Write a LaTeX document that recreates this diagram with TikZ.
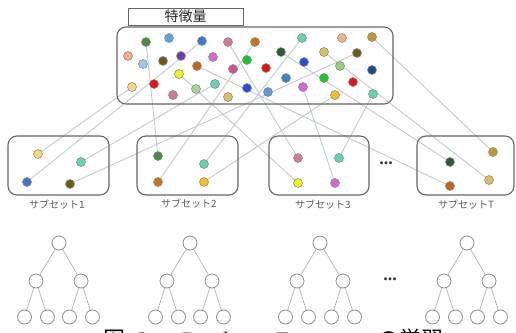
\documentclass[tikz,border=0pt]{standalone}
\usepackage{fontspec}
\usepackage{xcolor}
\usepackage{tikz}
\usetikzlibrary{positioning, backgrounds}
\setmainfont{Liberation Serif}
\newfontfamily\jpfont{Noto Sans CJK JP}

\definecolor{dgreen}{HTML}{4E8A3E}
\definecolor{lblue}{HTML}{5FA3DA}
\definecolor{fblue}{HTML}{3C78CC}
\definecolor{mauve}{HTML}{D07A96}
\definecolor{forange}{HTML}{C8741E}
\definecolor{fteal}{HTML}{62D4B4}
\definecolor{peach}{HTML}{F2B08E}
\definecolor{fgold}{HTML}{C8962A}
\definecolor{skyblue}{HTML}{9CC8F0}
\definecolor{folive}{HTML}{6E5C16}
\definecolor{fpurple}{HTML}{6A3CA8}
\definecolor{rust}{HTML}{C4621E}
\definecolor{fviolet}{HTML}{D466D6}
\definecolor{fmagenta}{HTML}{C85698}
\definecolor{fgreen}{HTML}{18C828}
\definecolor{forest}{HTML}{2E5A30}
\definecolor{fred}{HTML}{E21414}
\definecolor{royal}{HTML}{2A4CD4}
\definecolor{khaki}{HTML}{D8C064}
\definecolor{lgreen}{HTML}{96D27A}
\definecolor{navy}{HTML}{1C4C84}
\definecolor{pyellow}{HTML}{F2DA78}
\definecolor{fyellow}{HTML}{F2F214}
\definecolor{fpink}{HTML}{D27894}
\definecolor{sage}{HTML}{A6D49A}
\definecolor{steel}{HTML}{5C9AD8}
\definecolor{steeltwo}{HTML}{3C82C4}
\definecolor{amber}{HTML}{F4C020}
\definecolor{linkgray}{HTML}{C2C9D2}

\begin{document}
\begin{tikzpicture}[x=1pt,y=-1pt]
						\tikzstyle{fdot}=[circle,draw=black!45,line width=0.6pt,inner sep=0pt,minimum size=9pt]
						\tikzstyle{box}=[draw=black!60,line width=1.1pt,rounded corners=9pt,inner sep=0pt]
						\tikzstyle{link}=[draw=linkgray,line width=0.9pt]
						\tikzstyle{tnode}=[circle,draw=black!45,line width=0.8pt,fill=white,inner sep=0pt,minimum size=14pt]
						\tikzstyle{tedge}=[draw=black!30,line width=0.7pt]
						\tikzstyle{sublabel}=[font=\jpfont\fontsize{10}{12}\selectfont,text=black!65]
						\tikzstyle{ellip}=[font=\bfseries\fontsize{18}{20}\selectfont,text=black!80]
						\useasboundingbox (0,0) rectangle (516,332);

						\node[box](featbox) at (255,65.5) [minimum width=276pt,minimum height=77pt] {};
						\node[draw=black!60,line width=1pt,minimum width=115pt,minimum height=17pt,inner sep=0pt,font=\jpfont\fontsize{14}{16}\selectfont,text=black!85](title) at (185.5,16.5) {特徴量};

						\node[fdot,fill=dgreen](f1) at (146,42) {};
						\node[fdot,fill=lblue](f2) at (169,38) {};
						\node[fdot,fill=fblue](f3) at (202,41) {};
						\node[fdot,fill=mauve](f4) at (228,42) {};
						\node[fdot,fill=forange](f5) at (255,42) {};
						\node[fdot,fill=fteal](f6) at (302,38) {};
						\node[fdot,fill=peach](f7) at (342,38) {};
						\node[fdot,fill=fgold](f8) at (372,37) {};
						\node[fdot,fill=peach](f9) at (128,56) {};
						\node[fdot,fill=skyblue](f10) at (143,64) {};
						\node[fdot,fill=folive](f11) at (163,61) {};
						\node[fdot,fill=fpurple](f12) at (181,56) {};
						\node[fdot,fill=rust](f13) at (197,66) {};
						\node[fdot,fill=fviolet](f14) at (213,57) {};
						\node[fdot,fill=fmagenta](f15) at (233,69) {};
						\node[fdot,fill=fgreen](f16) at (247,60) {};
						\node[fdot,fill=fred](f17) at (266,68) {};
						\node[fdot,fill=forest](f18) at (281,52) {};
						\node[fdot,fill=royal](f19) at (304,62) {};
						\node[fdot,fill=khaki](f20) at (324,52) {};
						\node[fdot,fill=lgreen](f21) at (340,66) {};
						\node[fdot,fill=folive](f22) at (357,53) {};
						\node[fdot,fill=navy](f23) at (372,70) {};
						\node[fdot,fill=pyellow](f24) at (132,87) {};
						\node[fdot,fill=fred](f25) at (154,84) {};
						\node[fdot,fill=fyellow](f26) at (179,74) {};
						\node[fdot,fill=fpink](f27) at (173,95) {};
						\node[fdot,fill=sage](f28) at (196,89) {};
						\node[fdot,fill=fteal](f29) at (215,84) {};
						\node[fdot,fill=khaki](f30) at (228,97) {};
						\node[fdot,fill=royal](f31) at (247,88) {};
						\node[fdot,fill=steel](f32) at (268,92) {};
						\node[fdot,fill=steeltwo](f33) at (286,78) {};
						\node[fdot,fill=fviolet](f34) at (303,87) {};
						\node[fdot,fill=fgreen](f35) at (324,78) {};
						\node[fdot,fill=amber](f36) at (335,95) {};
						\node[fdot,fill=fred](f37) at (353,82) {};
						\node[fdot,fill=fteal](f38) at (373,94) {};

						\node[box](sub1) at (58.5,165.5) [minimum width=101pt,minimum height=59pt] {};
						\node[box](sub2) at (187.5,165.5) [minimum width=101pt,minimum height=59pt] {};
						\node[box](sub3) at (319,165.5) [minimum width=100pt,minimum height=59pt] {};
						\node[box](subT) at (465.5,165.5) [minimum width=97pt,minimum height=59pt] {};
						\node[sublabel](lab1) at (57,205) {サブセット1};
						\node[sublabel](lab2) at (189,204) {サブセット2};
						\node[sublabel](lab3) at (323,205) {サブセット3};
						\node[sublabel](labT) at (466,205) {サブセットT};
						\node[ellip](more1) at (386,163) {...};

						\node[fdot,fill=pyellow](a1) at (38,154) {};
						\node[fdot,fill=fteal](a2) at (81,162) {};
						\node[fdot,fill=fblue](a3) at (27,182) {};
						\node[fdot,fill=folive](a4) at (70,184) {};
						\node[fdot,fill=dgreen](b1) at (158,156) {};
						\node[fdot,fill=fteal](b2) at (204,164) {};
						\node[fdot,fill=forange](b3) at (158,182) {};
						\node[fdot,fill=amber](b4) at (204,182) {};
						\node[fdot,fill=mauve](c1) at (298,158) {};
						\node[fdot,fill=fteal](c2) at (339,158) {};
						\node[fdot,fill=fyellow](c3) at (298,183) {};
						\node[fdot,fill=fviolet](c4) at (335,183) {};
						\node[fdot,fill=forest](t1) at (450,162) {};
						\node[fdot,fill=fgold](t2) at (493,152) {};
						\node[fdot,fill=rust](t3) at (450,186) {};
						\node[fdot,fill=khaki](t4) at (489,180) {};

						\begin{scope}[on background layer]
						\draw[link](f24.center) -- (a1.center);
						\draw[link](f29.center) -- (a2.center);
						\draw[link](f3.center) -- (a3.center);
						\draw[link](f22.center) -- (a4.center);
						\draw[link](f1.center) -- (b1.center);
						\draw[link](f6.center) -- (b2.center);
						\draw[link](f5.center) -- (b3.center);
						\draw[link](f36.center) -- (b4.center);
						\draw[link](f4.center) -- (c1.center);
						\draw[link](f38.center) -- (c2.center);
						\draw[link](f26.center) -- (c3.center);
						\draw[link](f34.center) -- (c4.center);
						\draw[link](f18.center) -- (t1.center);
						\draw[link](f8.center) -- (t2.center);
						\draw[link](f13.center) -- (t3.center);
						\draw[link](f20.center) -- (t4.center);
						\end{scope}

						\node[tnode](r1) at (59,243) {};
						\node[tnode](m11) at (36,281) {};
						\node[tnode](m12) at (81,281) {};
						\node[tnode](l11) at (24.5,317) {};
						\node[tnode](l12) at (47.5,317) {};
						\node[tnode](l13) at (69.5,317) {};
						\node[tnode](l14) at (92.5,317) {};
						\node[tnode](r2) at (190,243) {};
						\node[tnode](m21) at (167,281) {};
						\node[tnode](m22) at (212,281) {};
						\node[tnode](l21) at (155.5,317) {};
						\node[tnode](l22) at (178.5,317) {};
						\node[tnode](l23) at (200.5,317) {};
						\node[tnode](l24) at (223.5,317) {};
						\node[tnode](r3) at (320,243) {};
						\node[tnode](m31) at (297,281) {};
						\node[tnode](m32) at (343,281) {};
						\node[tnode](l31) at (285.5,317) {};
						\node[tnode](l32) at (308.5,317) {};
						\node[tnode](l33) at (331.5,317) {};
						\node[tnode](l34) at (354.5,317) {};
						\node[tnode](r4) at (467,243) {};
						\node[tnode](m41) at (444,281) {};
						\node[tnode](m42) at (489,281) {};
						\node[tnode](l41) at (432.5,317) {};
						\node[tnode](l42) at (455.5,317) {};
						\node[tnode](l43) at (477.5,317) {};
						\node[tnode](l44) at (500.5,317) {};
						\node[ellip](more2) at (390,279) {...};

						\draw[tedge](r1) -- (m11);
						\draw[tedge](r1) -- (m12);
						\draw[tedge](m11) -- (l11);
						\draw[tedge](m11) -- (l12);
						\draw[tedge](m12) -- (l13);
						\draw[tedge](m12) -- (l14);
						\draw[tedge](r2) -- (m21);
						\draw[tedge](r2) -- (m22);
						\draw[tedge](m21) -- (l21);
						\draw[tedge](m21) -- (l22);
						\draw[tedge](m22) -- (l23);
						\draw[tedge](m22) -- (l24);
						\draw[tedge](r3) -- (m31);
						\draw[tedge](r3) -- (m32);
						\draw[tedge](m31) -- (l31);
						\draw[tedge](m31) -- (l32);
						\draw[tedge](m32) -- (l33);
						\draw[tedge](m32) -- (l34);
						\draw[tedge](r4) -- (m41);
						\draw[tedge](r4) -- (m42);
						\draw[tedge](m41) -- (l41);
						\draw[tedge](m41) -- (l42);
						\draw[tedge](m42) -- (l43);
						\draw[tedge](m42) -- (l44);

						\node[anchor=base west,inner sep=0pt,font=\fontsize{22}{26}\selectfont](caption) at (103,347) {{\jpfont 図}\hspace{12pt}3\hspace{34pt}Random\hspace{20pt}Forest\hspace{46pt}{\jpfont の学習}};
					\end{tikzpicture}
\end{document}
